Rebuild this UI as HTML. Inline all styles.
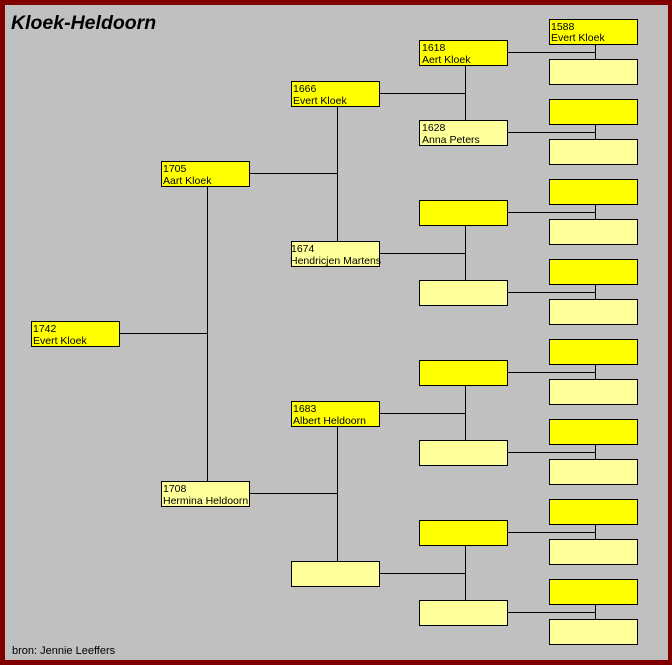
<!DOCTYPE html>
<html><head><meta charset="utf-8"><style>
html,body{margin:0;padding:0;}
body{width:672px;height:665px;overflow:hidden;}
svg{display:block;}
text{font-family:"Liberation Sans",sans-serif;font-size:10.5px;fill:#000;}
</style></head><body>
<svg width="672" height="665" viewBox="0 0 672 665" xmlns="http://www.w3.org/2000/svg">
<rect x="0" y="0" width="672" height="665" fill="#800000"/>
<rect x="5" y="5" width="663" height="655" fill="#c0c0c0"/>
<text x="11" y="29" style="font-size:19.5px;font-weight:bold;font-style:italic;">Kloek-Heldoorn</text>
<text x="12" y="654" style="font-size:11px;">bron: Jennie Leeffers</text>
<g stroke="#000" stroke-width="1" fill="none">
<path d="M119 333.5H207.5M207.5 186V481"/>
<path d="M249 173.5H337.5M337.5 106V241M249 493.5H337.5M337.5 426V561"/>
<path d="M379 93.5H465.5M465.5 65V120M379 253.5H465.5M465.5 225V280M379 413.5H465.5M465.5 385V440M379 573.5H465.5M465.5 545V600"/>
<path d="M507 52.5H595.5M595.5 44V59M507 132.5H595.5M595.5 124V139M507 212.5H595.5M595.5 204V219M507 292.5H595.5M595.5 284V299M507 372.5H595.5M595.5 364V379M507 452.5H595.5M595.5 444V459M507 532.5H595.5M595.5 524V539M507 612.5H595.5M595.5 604V619"/>
</g>
<g stroke="#000" stroke-width="1">
<rect x="31.5" y="321.5" width="88" height="25" fill="#ffff00"/>
<rect x="161.5" y="161.5" width="88" height="25" fill="#ffff00"/>
<rect x="161.5" y="481.5" width="88" height="25" fill="#ffff99"/>
<rect x="291.5" y="81.5" width="88" height="25" fill="#ffff00"/>
<rect x="291.5" y="241.5" width="88" height="25" fill="#ffff99"/>
<rect x="291.5" y="401.5" width="88" height="25" fill="#ffff00"/>
<rect x="291.5" y="561.5" width="88" height="25" fill="#ffff99"/>
<rect x="419.5" y="40.5" width="88" height="25" fill="#ffff00"/>
<rect x="419.5" y="120.5" width="88" height="25" fill="#ffff99"/>
<rect x="419.5" y="200.5" width="88" height="25" fill="#ffff00"/>
<rect x="419.5" y="280.5" width="88" height="25" fill="#ffff99"/>
<rect x="419.5" y="360.5" width="88" height="25" fill="#ffff00"/>
<rect x="419.5" y="440.5" width="88" height="25" fill="#ffff99"/>
<rect x="419.5" y="520.5" width="88" height="25" fill="#ffff00"/>
<rect x="419.5" y="600.5" width="88" height="25" fill="#ffff99"/>
<rect x="549.5" y="19.5" width="88" height="25" fill="#ffff00"/>
<rect x="549.5" y="59.5" width="88" height="25" fill="#ffff99"/>
<rect x="549.5" y="99.5" width="88" height="25" fill="#ffff00"/>
<rect x="549.5" y="139.5" width="88" height="25" fill="#ffff99"/>
<rect x="549.5" y="179.5" width="88" height="25" fill="#ffff00"/>
<rect x="549.5" y="219.5" width="88" height="25" fill="#ffff99"/>
<rect x="549.5" y="259.5" width="88" height="25" fill="#ffff00"/>
<rect x="549.5" y="299.5" width="88" height="25" fill="#ffff99"/>
<rect x="549.5" y="339.5" width="88" height="25" fill="#ffff00"/>
<rect x="549.5" y="379.5" width="88" height="25" fill="#ffff99"/>
<rect x="549.5" y="419.5" width="88" height="25" fill="#ffff00"/>
<rect x="549.5" y="459.5" width="88" height="25" fill="#ffff99"/>
<rect x="549.5" y="499.5" width="88" height="25" fill="#ffff00"/>
<rect x="549.5" y="539.5" width="88" height="25" fill="#ffff99"/>
<rect x="549.5" y="579.5" width="88" height="25" fill="#ffff00"/>
<rect x="549.5" y="619.5" width="88" height="25" fill="#ffff99"/>
</g>
<text x="33" y="332">1742</text><text x="33" y="344">Evert Kloek</text>
<text x="163" y="172">1705</text><text x="163" y="184">Aart Kloek</text>
<text x="163" y="492">1708</text><text x="163" y="504">Hermina Heldoorn</text>
<text x="293" y="92">1666</text><text x="293" y="104">Evert Kloek</text>
<text x="291" y="252">1674</text><text x="290" y="264">Hendricjen Martens</text>
<text x="293" y="412">1683</text><text x="293" y="424">Albert Heldoorn</text>
<text x="422" y="51">1618</text><text x="422" y="63">Aert Kloek</text>
<text x="422" y="131">1628</text><text x="422" y="143">Anna Peters</text>
<text x="551" y="30">1588</text><text x="551" y="41">Evert Kloek</text>
</svg>
</body></html>
